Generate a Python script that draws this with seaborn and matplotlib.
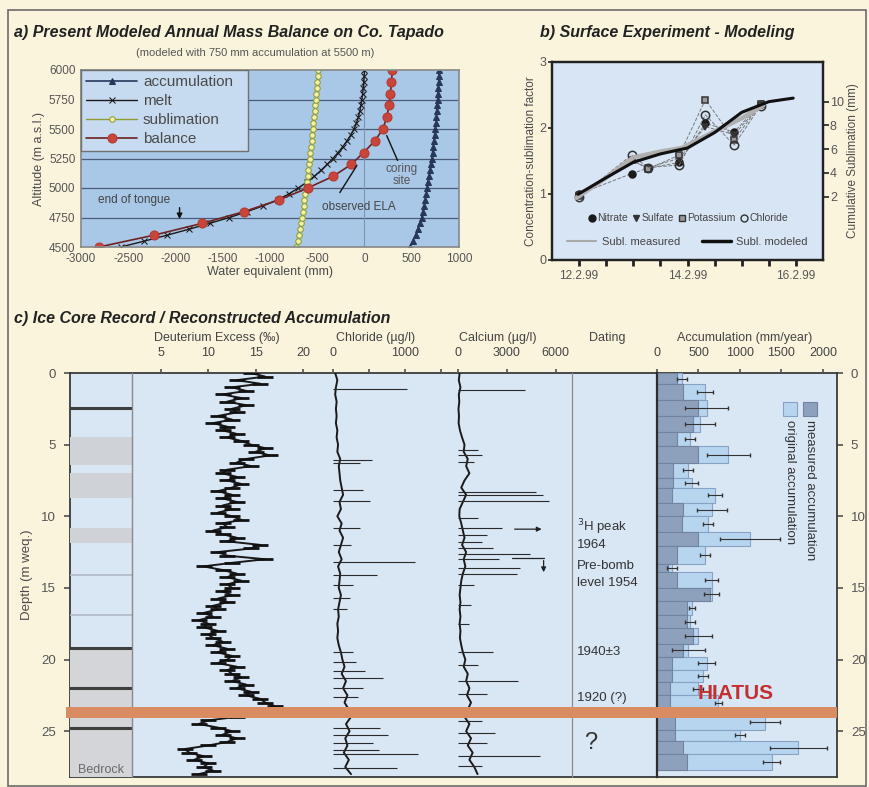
import matplotlib
matplotlib.use('Agg')
import matplotlib.pyplot as plt
from matplotlib.patches import Rectangle
from matplotlib.lines import Line2D
import seaborn as sns

sns.set_theme(style='white')
plt.rcParams['font.family'] = ['Liberation Sans', 'DejaVu Sans']
plt.rcParams['axes.unicode_minus'] = False

# ---------------- panel a data ----------------
alt50 = list(range(4500, 6001, 50))
acc_a = [480, 510, 540, 565, 585, 605, 620, 632, 643, 653, 662, 673, 683, 693, 702, 712,
         720, 728, 735, 742, 750, 755, 760, 765, 769, 773, 777, 781, 785, 789, 793]
melt_a = [-2580, -2330, -2090, -1860, -1640, -1430, -1240, -1070, -920, -800, -700, -610,
          -530, -460, -395, -335, -280, -230, -185, -145, -110, -85, -65, -50, -38, -28,
          -20, -13, -8, -4, 0]
subl_a = [-720, -708, -697, -686, -675, -665, -655, -645, -636, -627, -618, -610, -602,
          -594, -586, -579, -572, -565, -558, -552, -546, -540, -534, -528, -522, -516,
          -510, -504, -498, -493, -488]
alt100 = list(range(4500, 6001, 100))
bal_a = [-2810, -2230, -1720, -1275, -900, -600, -330, -140, -10, 110, 195, 235, 260, 275, 285, 295]

# ---------------- panel b data ----------------
b_time = [12.0, 12.97, 13.27, 13.85, 14.33, 14.86, 15.35]
nitrate = [1.00, 1.31, 1.39, 1.48, 2.07, 1.94, 2.37]
sulfate = [0.98, 1.50, 1.40, 1.54, 2.02, 1.90, 2.35]
potassium = [0.97, 1.52, 1.38, 1.59, 2.43, 1.82, 2.36]
chloride_b = [0.96, 1.59, 1.40, 1.44, 2.20, 1.74, 2.34]
modeled_t = [11.98, 12.5, 13.0, 13.5, 14.0, 14.5, 15.0, 15.5, 15.95]
modeled_mm = [2.2, 3.6, 4.9, 5.6, 6.1, 7.4, 9.1, 10.0, 10.3]
measured_t = [11.95, 12.5, 13.0, 13.5, 13.9, 14.5, 15.0, 15.4]
measured_mm = [1.9, 3.6, 5.3, 5.8, 6.1, 7.5, 8.6, 9.7]
b_date_ticks = [12, 14, 16]
b_date_labels = ['12.2.99', '14.2.99', '16.2.99']

# ---------------- panel c data ----------------
deut_vals = [14.5, 16.0, 13.0, 15.5, 12.5, 14.0, 11.5, 13.5, 12.0, 14.0, 12.5, 13.0, 11.0,
             12.5, 10.5, 12.0, 11.5, 13.0, 12.0, 13.5, 14.5, 16.0, 15.0, 16.5, 14.0, 13.0,
             14.5, 12.0, 11.5, 13.0, 12.0, 13.5, 12.5, 11.0, 12.5, 11.5, 13.0, 11.5, 12.5,
             11.0, 12.5, 13.5, 11.5, 12.0, 10.5, 11.5, 13.0, 12.0, 15.5, 14.5, 11.0, 12.0,
             16.0, 12.5, 9.5, 11.5, 13.0, 12.0, 13.5, 12.0, 12.5, 11.5, 12.5, 11.0, 12.0,
             10.5, 11.0, 9.5, 10.5, 9.0, 10.0, 9.5, 11.0, 10.0, 10.5, 11.5, 10.5, 12.0, 11.0,
             12.5, 12.0, 11.0, 13.0, 12.0, 12.5, 13.5, 12.5, 14.0, 13.0, 14.5, 14.0, 15.5,
             16.0, 17.0, 16.0, 14.5, 13.0, 10.0, 9.0, 11.0, 12.5, 11.5, 13.0, 12.0, 10.0,
             7.5, 8.0, 9.5, 8.5, 10.0, 9.5, 10.5, 9.0]
deut_depth = [i * 0.25 for i in range(len(deut_vals))]

chl_base = [30, 60, 40, 30, 50, 40, 50, 40, 60, 50, 70, 60, 100, 80, 90, 100, 120, 140, 90,
            110, 60, 120, 90, 140, 110, 80, 120, 70, 100, 90, 80, 110, 90, 70, 80, 60, 70,
            60, 80, 110, 130, 160, 120, 180, 140, 200, 160, 220, 250, 180, 230, 170, 200,
            150, 220, 170, 250]
ca_base = [100, 50, 150, 50, 80, 30, 60, 40, 120, 250, 400, 350, 600, 500, 700, 400, 200,
           500, 300, 100, 80, 200, 300, 400, 250, 500, 350, 450, 300, 200, 150, 100, 150,
           100, 150, 100, 150, 120, 200, 300, 450, 350, 600, 500, 700, 550, 800, 600, 400,
           700, 500, 800, 600, 900, 700, 1000, 1200]
base_depth = [i * 0.5 for i in range(len(chl_base))]

chl_spike_depth = [1.1, 6.1, 6.3, 8.2, 8.9, 10.8, 12.0, 13.2, 14.1, 14.8, 15.7, 16.5, 19.5,
                   20.2, 20.8, 21.3, 22.0, 22.6, 23.8, 24.8, 25.3, 25.8, 26.3, 26.6, 27.6]
chl_spike_val = [1030, 540, 380, 420, 510, 380, 250, 1140, 610, 280, 240, 200, 280, 320,
                 450, 690, 420, 350, 500, 650, 770, 560, 640, 1180, 890]
ca_spike_depth = [1.2, 5.4, 5.7, 6.2, 8.3, 8.5, 8.9, 10.1, 10.8, 11.3, 11.8, 12.2, 12.6,
                  13.0, 13.6, 14.0, 14.8, 16.2, 17.5, 19.5, 20.4, 21.5, 22.4, 23.7, 24.3,
                  25.1, 25.8, 26.7, 27.4]
ca_spike_val = [4100, 1200, 1500, 1000, 4800, 5200, 5600, 1200, 2700, 1800, 1500, 2150,
                4400, 2500, 3800, 3600, 1000, 800, 700, 2150, 1200, 3700, 1800, 2000, 1500,
                2250, 1800, 5000, 1500]

acc_top = [0.0, 0.8, 1.9, 3.0, 4.1, 5.1, 6.3, 7.3, 8.0, 9.1, 10.0, 11.1, 12.1, 13.3, 13.9,
           15.0, 15.9, 16.9, 17.8, 18.9, 19.8, 20.7, 21.6, 22.5, 23.8, 24.9, 25.7, 26.6]
acc_bot = [0.8, 1.9, 3.0, 4.1, 5.1, 6.3, 7.3, 8.0, 9.1, 10.0, 11.1, 12.1, 13.3, 13.9, 15.0,
           15.9, 16.9, 17.8, 18.9, 19.8, 20.7, 21.6, 22.5, 23.5, 24.9, 25.7, 26.6, 27.7]
acc_measured = [240, 313, 498, 438, 237, 498, 197, 197, 177, 317, 297, 498, 237, 137, 237,
                638, 357, 357, 438, 317, 177, 177, 157, 157, 217, 217, 317, 357]
acc_original = [300, 578, 598, 518, 398, 860, 378, 418, 699, 660, 618, 1120, 578, 180, 658,
                658, 420, 398, 500, 378, 598, 558, 498, 739, 1301, 1000, 1703, 1381]
acc_err = [60, 100, 260, 180, 60, 260, 60, 80, 80, 180, 60, 360, 60, 60, 80, 90, 40, 60,
           160, 200, 100, 60, 60, 40, 180, 60, 340, 100]

strat_gray_top = [4.5, 7.0, 10.8]
strat_gray_bot = [6.4, 8.7, 11.9]
bedrock_zone = (19.2, 28.2)
strat_dark_lines = [2.45, 19.2, 22.0, 24.8]
strat_light_lines = [14.1, 16.9]
hiatus = (23.3, 24.1)

dating_depth = [10.75, 12.0, 13.45, 14.65, 19.45, 22.7]
dating_text = ['$^3$H peak', '1964', 'Pre-bomb', 'level 1954', '1940\u00b13', '1920 (?)']

# ---------------- styling ----------------
BG = '#fbf4dc'
A_BG = '#a9c7e7'
B_BG = '#d7e5f5'
C_BG = '#d9e6f4'
GRAYTXT = '#4a4a4a'
W, H = 870, 787


def rect(x0, y0, x1, y1):
    return [x0 / W, 1 - y1 / H, (x1 - x0) / W, (y1 - y0) / H]


fig = plt.figure(figsize=(8.7, 7.87), dpi=100, facecolor=BG)
fig.add_artist(Rectangle((8 / W, 1 / H), (866 - 8) / W, (786 - 10) / H,
                         transform=fig.transFigure, fill=False, ec='#6a6a6a', lw=1.2))

# ============ panel a ============
fig.text(14 / W, 1 - 33 / H, 'a) Present Modeled Annual Mass Balance on Co. Tapado',
         fontsize=11.5, fontweight='bold', fontstyle='italic', color='#222', va='center')
fig.text(255 / W, 1 - 53 / H, '(modeled with 750 mm accumulation at 5500 m)',
         fontsize=8, color='#555', ha='center', va='center')
axa = fig.add_axes(rect(81, 70, 459, 247))
axa.set_facecolor(A_BG)
for y in [4750, 5000, 5250, 5500, 5750]:
    axa.axhline(y, color='#4a5c78', lw=0.9, zorder=1)
axa.axvline(0, color='#7d93b0', lw=0.8, zorder=1)
sns.lineplot(x=acc_a, y=alt50, orient='y', sort=False, estimator=None, ax=axa,
             color='#27385a', lw=1.2, marker='^', markersize=5, markeredgecolor='#27385a',
             label='accumulation')
sns.lineplot(x=melt_a, y=alt50, orient='y', sort=False, estimator=None, ax=axa,
             color='#1a1a1a', lw=1.0, marker='x', markersize=4, markeredgecolor='#1a1a1a',
             label='melt')
sns.lineplot(x=subl_a, y=alt50, orient='y', sort=False, estimator=None, ax=axa,
             color='#8d9b32', lw=1.0, marker='o', markersize=4, markerfacecolor='#f3f0a8',
             markeredgecolor='#8d9b32', label='sublimation')
sns.lineplot(x=bal_a, y=alt100, orient='y', sort=False, estimator=None, ax=axa,
             color='#6e2222', lw=1.2, marker='o', markersize=6.5, markerfacecolor='#c9453a',
             markeredgecolor='#b03a30', label='balance')
axa.set_xlim(-3000, 1000)
axa.set_ylim(4500, 6000)
axa.set_xticks(range(-3000, 1001, 500))
axa.set_yticks(range(4500, 6001, 250))
axa.tick_params(labelsize=8.5, colors='#555', length=2, pad=2)
for s in axa.spines.values():
    s.set_color('#8a8a8a')
axa.set_xlabel('Water equivalent (mm)', fontsize=9, color=GRAYTXT, labelpad=1)
axa.set_ylabel('Altitude (m a.s.l.)', fontsize=9, color=GRAYTXT, labelpad=3)
lg = axa.legend(loc='upper left', bbox_to_anchor=(0, 1.0, 0.442, 0), mode='expand',
                borderaxespad=0, facecolor='#c7dbf0', edgecolor='#707070', fancybox=False,
                framealpha=1, fontsize=11, handlelength=3.3, labelspacing=0.32,
                borderpad=0.35, handletextpad=0.4)
for t in lg.get_texts():
    t.set_color(GRAYTXT)
lg.set_zorder(5)
axa.annotate('', xy=(223, 5466), xytext=(362, 5212),
             arrowprops=dict(arrowstyle='-', color='#111', lw=1.0))
axa.text(394, 5110, 'coring\nsite', fontsize=8.5, color='#555', ha='center', va='center',
         linespacing=0.9)
axa.annotate('', xy=(-64, 5212), xytext=(-277, 4941),
             arrowprops=dict(arrowstyle='-', color='#111', lw=1.0))
axa.text(-55, 4840, 'observed ELA', fontsize=8.5, color='#444', ha='center', va='center')
axa.text(-2436, 4899, 'end of tongue', fontsize=8.5, color='#444', ha='center', va='center')
axa.annotate('', xy=(-1957, 4713), xytext=(-1957, 4857),
             arrowprops=dict(arrowstyle='-|>', color='#111', lw=1.0, mutation_scale=8))

# ============ panel b ============
fig.text(540 / W, 1 - 33 / H, 'b) Surface Experiment - Modeling', fontsize=11.5,
         fontweight='bold', fontstyle='italic', color='#222', va='center')
axb = fig.add_axes(rect(552, 62, 823, 260))
axb.set_facecolor(B_BG)
axb.set_xlim(11.5, 16.5)
axb.set_ylim(0, 3)
series_b = [(nitrate, 'o', 'k', 'k', 5, 'Nitrate'),
            (sulfate, 'v', '#333', '#333', 5, 'Sulfate'),
            (potassium, 's', '#9a9a9a', '#333', 5, 'Potassium'),
            (chloride_b, 'o', 'none', '#333', 6, 'Chloride')]
for vals, mk, fc, ec, ms, lab in series_b:
    sns.lineplot(x=b_time, y=vals, sort=False, estimator=None, ax=axb, color='#7a7a7a',
                 lw=0.7, linestyle='--', marker=mk, markersize=ms, markerfacecolor=fc,
                 markeredgecolor=ec, markeredgewidth=1.1)
axb2 = axb.twinx()
sns.lineplot(x=measured_t, y=measured_mm, sort=False, estimator=None, ax=axb2,
             color='#b0b0b0', lw=3.2)
sns.lineplot(x=modeled_t, y=modeled_mm, sort=False, estimator=None, ax=axb2,
             color='#111', lw=2.2)
axb2.set_ylim(-3.33, 13.34)
axb2.set_yticks([2, 4, 6, 8, 10])
b_xt = [12 + 0.5 * i for i in range(9)]
axb.set_xticks(b_xt)
axb.set_xticklabels([b_date_labels[b_date_ticks.index(int(t))] if t in b_date_ticks else ''
                     for t in b_xt])
axb.set_yticks([0, 1, 2, 3])
axb.set_yticklabels(['0', '1', '2', '3'])
axb.tick_params(axis='x', direction='out', length=4, width=2, color='#222', labelsize=8.5,
                labelcolor='#555', pad=3, bottom=True)
axb.tick_params(axis='y', direction='out', length=3, width=1.2, color='#222', labelsize=9,
                labelcolor='#555', pad=1, left=True)
axb2.tick_params(axis='y', direction='out', length=4, width=1.2, color='#222', labelsize=9,
                 labelcolor='#555', pad=1, right=True)
for ax_ in (axb, axb2):
    for s in ax_.spines.values():
        s.set_color('#222')
        s.set_linewidth(1.6)
axb.set_ylabel('Concentration-sublimation factor', fontsize=8.5, color=GRAYTXT, labelpad=2)
axb2.set_ylabel('Cumulative Sublimation (mm)', fontsize=8.5, color=GRAYTXT, labelpad=2)
h1 = [Line2D([], [], marker=mk, ls='none', markerfacecolor=fc, markeredgecolor=ec,
             markersize=5) for _, mk, fc, ec, _, _ in series_b]
leg1 = axb.legend(h1, [s[5] for s in series_b], loc='center', bbox_to_anchor=(0.5, 0.21),
                  ncol=4, frameon=False, fontsize=7.5, handletextpad=0.0,
                  columnspacing=0.3, handlelength=1.0)
for t in leg1.get_texts():
    t.set_color('#444')
h2 = [Line2D([], [], color='#a9a9a9', lw=1.5), Line2D([], [], color='#111', lw=2.5)]
leg2 = axb2.legend(h2, ['Subl. measured', 'Subl. modeled'], loc='center',
                   bbox_to_anchor=(0.5, 0.09), ncol=2, frameon=False, fontsize=8,
                   handlelength=2.6, columnspacing=2.0, handletextpad=0.5)
for t in leg2.get_texts():
    t.set_color('#444')

# ============ panel c ============
fig.text(14 / W, 1 - 318 / H, 'c) Ice Core Record / Reconstructed Accumulation',
         fontsize=11.5, fontweight='bold', fontstyle='italic', color='#222', va='center')
YL = (28.2, 0)
axc = fig.add_axes(rect(70, 373, 837, 777))
axc.set_facecolor(C_BG)
axc.set_ylim(*YL)
axc.set_xlim(0, 1)
axc.set_xticks([])
axc.set_yticks(range(0, 26, 5))
axc.tick_params(axis='y', left=True, right=True, labelleft=True, labelright=True,
                length=4, color='#555', labelsize=9.5, labelcolor='#555', pad=6)
for s in axc.spines.values():
    s.set_color('#3a3a3a')
    s.set_linewidth(1.3)
axc.set_ylabel('Depth (m weq.)', fontsize=9.5, color=GRAYTXT, labelpad=6)


def sub_axes(x0, x1):
    ax = fig.add_axes(rect(x0, 373, x1, 777))
    ax.patch.set_alpha(0)
    ax.set_ylim(*YL)
    ax.set_yticks([])
    for s in ax.spines.values():
        s.set_visible(False)
    ax.grid(False)
    return ax


# stratigraphy column
ax_s = sub_axes(70, 132)
ax_s.set_xlim(0, 1)
ax_s.set_xticks([])
ax_s.axhspan(*bedrock_zone, color='#d4d5d8', lw=0)
for t0, t1 in zip(strat_gray_top, strat_gray_bot):
    ax_s.axhspan(t0, t1, color='#cfd2d6', lw=0)
for d in strat_dark_lines:
    ax_s.axhline(d, color='#3e3e3e', lw=2.2)
for d in strat_light_lines:
    ax_s.axhline(d, color='#b0b8c4', lw=1.2)
ax_s.text(0.5, 27.7, 'Bedrock', fontsize=9, color='#6a6a6a', ha='center', va='center')

# deuterium
ax_d = sub_axes(132, 330)
ax_d.spines['left'].set_visible(True)
ax_d.spines['left'].set_color('#8a8a8a')
ax_d.spines['left'].set_linewidth(1.0)
sns.lineplot(x=deut_vals, y=deut_depth, orient='y', sort=False, estimator=None, ax=ax_d,
             color='k', lw=1.4, marker='_', markersize=11, markeredgewidth=2.0,
             markeredgecolor='#111')
ax_d.set_xlim(1.94, 22.85)
ax_d.set_xticks([5, 10, 15, 20])

# chloride
ax_cl = sub_axes(330, 450)
sns.lineplot(x=chl_base, y=base_depth, orient='y', sort=False, estimator=None, ax=ax_cl,
             color='k', lw=1.4)
ax_cl.hlines(chl_spike_depth, 0, chl_spike_val, color='#2a2a2a', lw=0.8)
ax_cl.set_xlim(-42, 1625)
ax_cl.set_xticks([0, 500, 1000, 1500])
ax_cl.set_xticklabels(['0', '', '1000', ''])

# calcium
ax_ca = sub_axes(450, 572)
sns.lineplot(x=ca_base, y=base_depth, orient='y', sort=False, estimator=None, ax=ax_ca,
             color='k', lw=1.4)
ax_ca.hlines(ca_spike_depth, 0, ca_spike_val, color='#2a2a2a', lw=0.8)
ax_ca.annotate('', xy=(5300, 10.9), xytext=(3300, 10.9),
               arrowprops=dict(arrowstyle='-|>', color='#222', lw=0.9, mutation_scale=7))
ax_ca.plot([3300, 5250], [12.9, 12.9], color='#222', lw=0.9)
ax_ca.annotate('', xy=(5250, 14.1), xytext=(5250, 12.9),
               arrowprops=dict(arrowstyle='-|>', color='#222', lw=0.9, mutation_scale=7))
ax_ca.set_xlim(-490, 6990)
ax_ca.set_xticks([0, 3000, 6000])

# dating
ax_dt = sub_axes(572, 657)
ax_dt.spines['left'].set_visible(True)
ax_dt.spines['left'].set_color('#8a8a8a')
ax_dt.spines['left'].set_linewidth(0.9)
ax_dt.set_xlim(0, 1)
ax_dt.set_xticks([])
for d, t in zip(dating_depth, dating_text):
    ax_dt.text(0.06, d, t, fontsize=9.5, color='#333', va='center', ha='left')
ax_dt.text(0.22, 25.8, '?', fontsize=17, color='#333', va='center', ha='center')

# accumulation
ax_ac = sub_axes(657, 837)
ax_ac.spines['left'].set_visible(True)
ax_ac.spines['left'].set_color('#2e2e2e')
ax_ac.spines['left'].set_linewidth(1.6)
centers = [(a + b) / 2 for a, b in zip(acc_top, acc_bot)]
heights = [b - a for a, b in zip(acc_top, acc_bot)]
ax_ac.barh(centers, acc_original, height=heights, color='#b8d5f0', edgecolor='#86a3c6',
           lw=0.8)
ax_ac.barh(centers, acc_measured, height=heights, color='#8ea1bc', edgecolor='#70849f',
           lw=0.8)
ax_ac.errorbar(acc_original, centers, xerr=acc_err, fmt='none', ecolor='#333', elinewidth=0.8,
               capsize=1.5)
ax_ac.set_xlim(0, 2169)
ax_ac.set_xticks([0, 500, 1000, 1500, 2000])

for ax_ in (ax_d, ax_cl, ax_ca, ax_ac):
    ax_.xaxis.tick_top()
    ax_.tick_params(axis='x', top=True, bottom=False, length=3, color='#555', labelsize=9,
                    labelcolor='#444', pad=7)

# column headers
for xc, lab in [(217, 'Deuterium Excess (\u2030)'), (376, 'Chloride (\u00b5g/l)'),
                (498, 'Calcium (\u00b5g/l)'), (607, 'Dating'),
                (745, 'Accumulation (mm/year)')]:
    fig.text(xc / W, 1 - 338 / H, lab, fontsize=9, color='#444', ha='center', va='center')

# accumulation legend
fig.add_artist(Rectangle((783 / W, 1 - 416 / H), 14 / W, 14 / H, transform=fig.transFigure,
                         fc='#b8d5f0', ec='#86a3c6', lw=0.8))
fig.add_artist(Rectangle((803 / W, 1 - 416 / H), 14 / W, 14 / H, transform=fig.transFigure,
                         fc='#8ea1bc', ec='#70849f', lw=0.8))
fig.text(810 / W, 1 - 420 / H, 'measured accumulation', rotation=270, fontsize=9.5,
         color='#333', ha='center', va='top')
fig.text(790 / W, 1 - 420 / H, 'original accumulation', rotation=270, fontsize=9.5,
         color='#333', ha='center', va='top')

# hiatus overlay
ax_h = fig.add_axes(rect(70, 373, 837, 777))
ax_h.patch.set_alpha(0)
ax_h.set_ylim(*YL)
ax_h.set_xlim(0, 1)
ax_h.axis('off')
ax_h.axhspan(*hiatus, xmin=-4 / 767, xmax=1.0, color='#d98b62', lw=0, clip_on=False)
ax_h.text(0.868, 22.4, 'HIATUS', fontsize=15, fontweight='bold', color='#c42f2f',
          ha='center', va='center')

fig.savefig('out.png', dpi=100, facecolor=BG)
